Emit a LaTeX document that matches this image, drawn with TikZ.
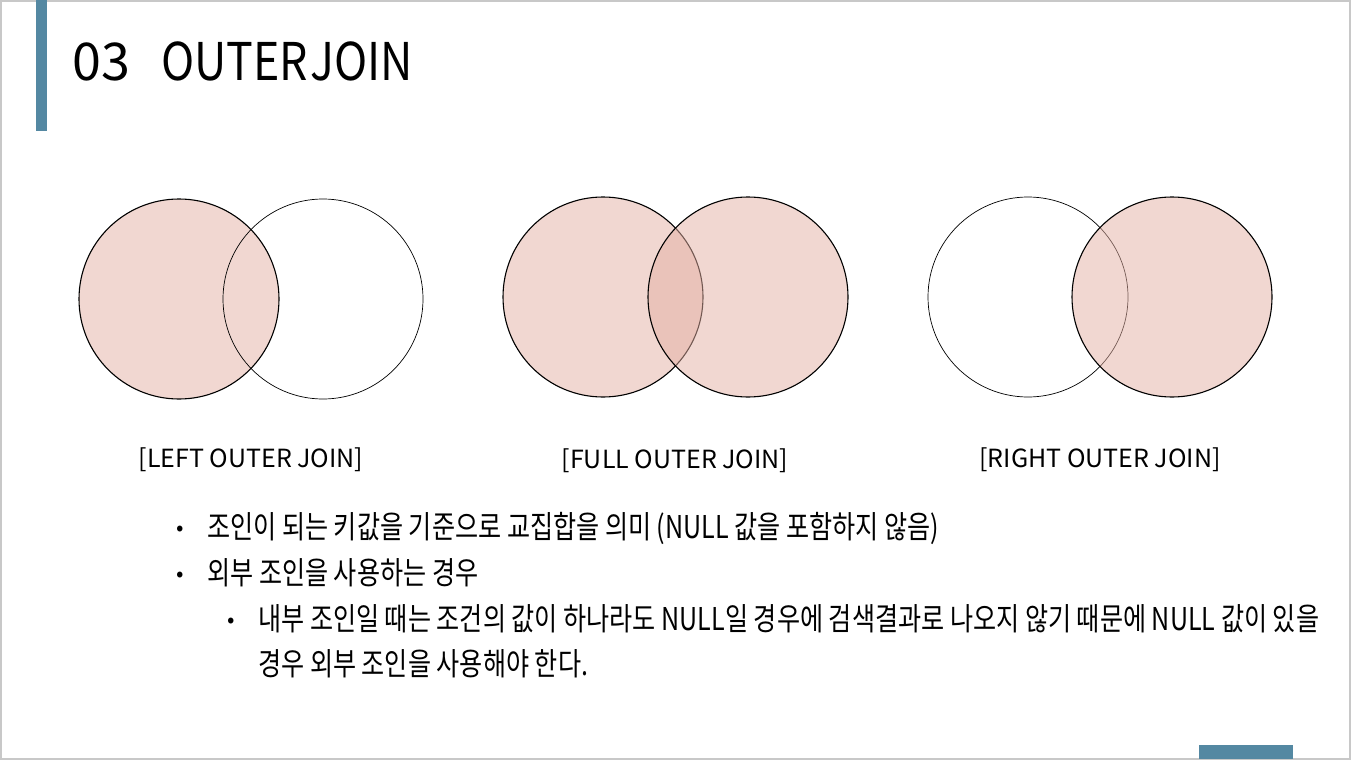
\documentclass[tikz,border=0pt]{standalone}
\usepackage{fontspec}
\setmainfont{Noto Sans CJK KR}
\newfontfamily\titlefont{Noto Sans CJK KR}[FakeStretch=0.86]
\newfontfamily\bodyfont{Noto Sans CJK KR}[FakeStretch=0.8]
\definecolor{barblue}{RGB}{84,136,162}
\definecolor{venn}{RGB}{229,177,165}
\definecolor{framegray}{RGB}{200,200,200}
\tikzset{
  filledset/.style={draw=black, line width=1.1pt, fill=venn, fill opacity=0.5, draw opacity=1},
  emptyset/.style={draw=black, line width=0.7pt},
  label/.style={anchor=base, font=\fontsize{25}{29}\selectfont},
  bodytext/.style={anchor=base west, inner sep=0pt, font=\bodyfont\fontsize{31.4}{36}\selectfont},
  bulletmark/.style={anchor=base, inner sep=0pt, font=\fontsize{22}{24}\selectfont},
  titlenum/.style={anchor=base west, inner sep=0pt, font=\fontsize{52}{56}\selectfont},
  titletext/.style={anchor=base west, inner sep=0pt, font=\titlefont\fontsize{52}{56}\selectfont}
}
\begin{document}
\begin{tikzpicture}[x=1pt,y=-1pt]
\useasboundingbox (0,0) rectangle (1351,760);
\fill[white] (0,0) rectangle (1351,760);
\draw[framegray, line width=1.2pt] (1,1) rectangle (1350,759);
% bars
\fill[barblue] (36,0) rectangle (47,131);
\fill[barblue] (1199,745) rectangle (1293,759);
% title
\node[titlenum] (t1) at (72,80) {03};
\node[titletext] (t2) at (161,80) {OUTER\kern2pt JOIN};
% left outer join
\draw[filledset] (179,299) circle[radius=100];
\draw[emptyset] (323,299) circle[radius=100];
% full outer join
\draw[filledset] (603,297) circle[radius=100];
\draw[filledset] (748,297) circle[radius=100];
% right outer join
\draw[emptyset] (1028,297) circle[radius=100];
\draw[filledset] (1172,297) circle[radius=100];
% labels
\node[label] (l1) at (251,467) {[LEFT OUTER JOIN]};
\node[label] (l2) at (675,468) {[FULL OUTER JOIN]};
\node[label] (l3) at (1100,467) {[RIGHT OUTER JOIN]};
% bullets
\node[bulletmark] (m1) at (180,535) {•};
\node[bodytext] (b1) at (207,538) {조인이 되는 키값을 기준으로 교집합을 의미 (NULL 값을 포함하지 않음)};
\node[bulletmark] (m2) at (180,581) {•};
\node[bodytext] (b2) at (207,584) {외부 조인을 사용하는 경우};
\node[bulletmark] (m3) at (231,627) {•};
\node[bodytext] (b3) at (258,630) {내부 조인일 때는 조건의 값이 하나라도 NULL일 경우에 검색결과로 나오지 않기 때문에 NULL 값이 있을};
\node[bodytext] (b4) at (258,675) {경우 외부 조인을 사용해야 한다.};
\end{tikzpicture}
\end{document}
